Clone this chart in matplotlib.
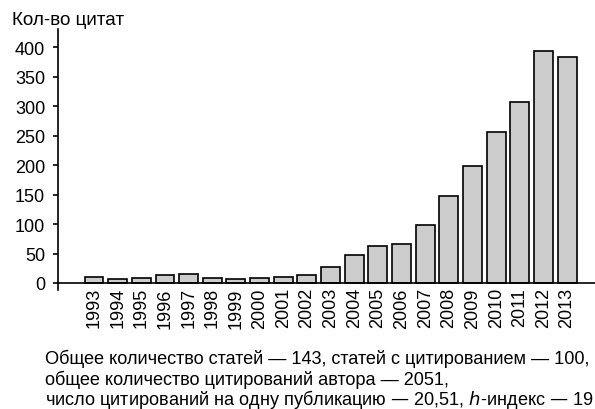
import matplotlib
matplotlib.use("Agg")
import matplotlib.pyplot as plt

plt.rcParams['font.family'] = ['Liberation Sans', 'DejaVu Sans']

years = ['1993', '1994', '1995', '1996', '1997', '1998', '1999', '2000', '2001', '2002',
         '2003', '2004', '2005', '2006', '2007', '2008', '2009', '2010', '2011', '2012', '2013']
citations = [10, 6, 8, 14, 16, 9, 7, 9, 11, 14, 27, 48, 62, 67, 99, 148, 199, 257, 307, 394, 384]
yticks = [0, 50, 100, 150, 200, 250, 300, 350, 400]
ylabel = 'Кол-во цитат'
note_lines = [
    'Общее количество статей — 143, статей с цитированием — 100,',
    'общее количество цитирований автора — 2051,',
    'число цитирований на одну публикацию — 20,51, $\\mathit{h}$-индекс — 19',
]

W, H = 595, 410
FS = 13
fig = plt.figure(figsize=(W / 100, H / 100), dpi=100)
ax = fig.add_axes([58.3 / W, 1 - 290.7 / H, 1 - 58.3 / W, (290.7 - 30) / H])

for s in ['top', 'right']:
    ax.spines[s].set_visible(False)
ax.spines['left'].set_linewidth(1.2)
ax.spines['bottom'].set_linewidth(1.2)
ax.spines['bottom'].set_position(('data', 0))

x = list(range(len(years)))
ax.bar(x, citations, width=0.8, color='#cccccc', edgecolor='black', linewidth=1.2)

ax.set_xlim(-1.51, 21.18)
ax.set_ylim(-11.4, 431)
ax.set_yticks(yticks)
ax.set_yticklabels([str(v) for v in yticks], fontsize=FS)
ax.set_xticks(x)
ax.set_xticklabels(years, rotation=90, fontsize=FS)
ax.tick_params(axis='x', length=0, pad=3)
ax.tick_params(axis='y', length=3.5, width=1.2, pad=6, direction='out')

fig.text(12 / W, 1 - 25 / H, ylabel, fontsize=13.6, va='baseline', ha='left')

baselines = [364, 385, 405]
for line, b in zip(note_lines, baselines):
    fig.text(45 / W, 1 - b / H, line, fontsize=13.1, va='baseline', ha='left')

fig.savefig('out.png', dpi=100)
